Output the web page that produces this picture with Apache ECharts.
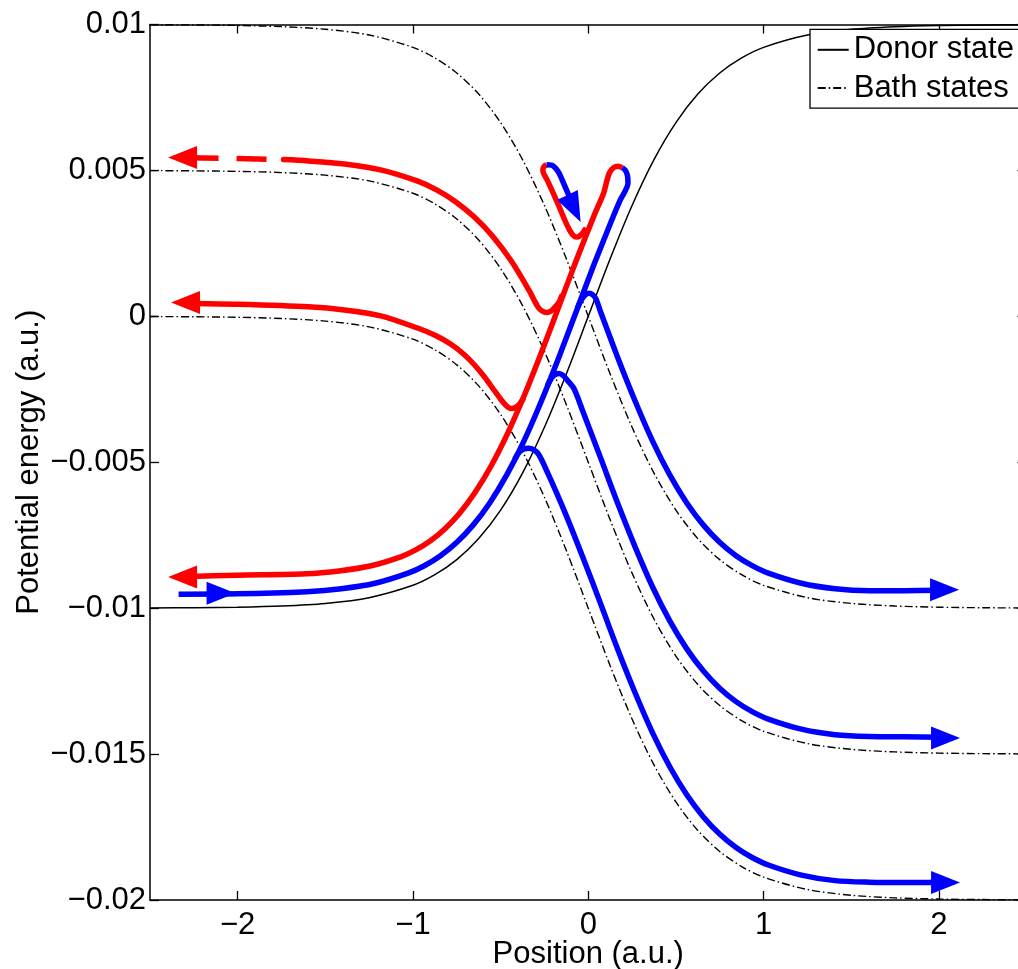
<!DOCTYPE html>
<html>
<head>
<meta charset="utf-8">
<script src="https://cdn.jsdelivr.net/npm/echarts@6/dist/echarts.min.js"></script>
<style>
html,body{margin:0;padding:0;background:#fff;}
#chart{width:1018px;height:969px;}
</style>
</head>
<body>
<div id="chart"></div>
<script>
// ---------- data ----------
const xTickValues = [-2, -1, 0, 1, 2];
const xTickLabels = ['\u22122', '\u22121', '0', '1', '2'];
const yTickValues = [-0.02, -0.015, -0.01, -0.005, 0, 0.005, 0.01];
const yTickLabels = ['\u22120.02', '\u22120.015', '\u22120.01', '\u22120.005', '0', '0.005', '0.01'];

const xGrid = [-2.5, -2.25, -2, -1.75, -1.5, -1.25, -1, -0.875, -0.75, -0.625, -0.5, -0.375, -0.25, -0.125, 0,
  0.125, 0.25, 0.375, 0.5, 0.625, 0.75, 0.875, 1, 1.25, 1.5, 1.75, 2, 2.25, 2.5];

const donorState = [-0.009993, -0.009985, -0.009967, -0.009926, -0.009837, -0.009640, -0.009217, -0.008854, -0.008337,
  -0.007616, -0.006640, -0.005371, -0.003800, -0.001974, 0, 0.001974, 0.003800, 0.005371, 0.006640, 0.007616, 0.008337,
  0.008854, 0.009217, 0.009640, 0.009837, 0.009926, 0.009967, 0.009985, 0.009993];

const bathTop = [0.009993, 0.009985, 0.009967, 0.009926, 0.009837, 0.009640, 0.009217, 0.008854, 0.008337, 0.007616,
  0.006640, 0.005371, 0.003800, 0.001974, 0, -0.001974, -0.003800, -0.005371, -0.006640, -0.007616, -0.008337,
  -0.008854, -0.009217, -0.009640, -0.009837, -0.009926, -0.009967, -0.009985, -0.009993];

const bathMid = [0.004993, 0.004985, 0.004967, 0.004926, 0.004837, 0.004640, 0.004217, 0.003854, 0.003337, 0.002616,
  0.001640, 0.000371, -0.001200, -0.003026, -0.005, -0.006974, -0.008800, -0.010371, -0.011640, -0.012616, -0.013337,
  -0.013854, -0.014217, -0.014640, -0.014837, -0.014926, -0.014967, -0.014985, -0.014993];

const bathLow = [-0.000007, -0.000015, -0.000033, -0.000074, -0.000163, -0.000360, -0.000783, -0.001146, -0.001663,
  -0.002384, -0.003360, -0.004629, -0.006200, -0.008026, -0.01, -0.011974, -0.013800, -0.015371, -0.016640, -0.017616,
  -0.018337, -0.018854, -0.019217, -0.019640, -0.019837, -0.019926, -0.019967, -0.019985, -0.019993];

// blue trajectory climbing the donor state (incoming from the left)
const blueClimb = [[-2.337, -0.009520], [-2.001, -0.009510], [-1.605, -0.009436], [-1.409, -0.009336], [-1.216, -0.009147],
  [-1.028, -0.008801], [-0.935, -0.008545], [-0.843, -0.008202], [-0.751, -0.007750], [-0.657, -0.007154],
  [-0.562, -0.006394], [-0.465, -0.005435], [-0.367, -0.004274], [-0.269, -0.002925], [-0.169, -0.001425],
  [-0.069, 0.000158], [0.031, 0.001747], [0.132, 0.003267], [0.182, 0.003979], [0.2265, 0.004565],
  [0.2242, 0.004805], [0.2128, 0.004993], [0.194, 0.005096]];

// red trajectory reflected back down the donor state
const redReturn = [[0.194, 0.005096], [0.170, 0.005147], [0.1443, 0.005096], [0.1215, 0.004925], [0.1072, 0.004668],
  [0.0881, 0.004226], [0.0367, 0.003503], [-0.065, 0.001969], [-0.1656, 0.000373], [-0.265, -0.001205],
  [-0.3633, -0.002688], [-0.460, -0.004010], [-0.555, -0.005137], [-0.647, -0.006048], [-0.735, -0.006757],
  [-0.820, -0.007298], [-0.902, -0.007699], [-0.984, -0.008003], [-1.066, -0.008231], [-1.238, -0.008545],
  [-1.421, -0.008723], [-1.611, -0.008822], [-2.003, -0.008870], [-2.314, -0.008920]];

// red trajectory leaving on the upper bath state (left, dashed end)
const redUpperDash = [[-2.280, 0.005437], [-2.0, 0.005411], [-1.738, 0.005370]];
const redUpper = [[-1.738, 0.005370], [-1.596, 0.005325], [-1.391, 0.005219], [-1.184, 0.005017], [-0.973, 0.004630],
  [-0.865, 0.004332], [-0.757, 0.003928], [-0.650, 0.003401], [-0.543, 0.002729], [-0.438, 0.001887],
  [-0.335, 0.000863], [-0.3092, 0.000558], [-0.2864, 0.000318], [-0.2635, 0.000182], [-0.2379, 0.000130],
  [-0.2122, 0.000182], [-0.1894, 0.000318], [-0.1666, 0.000490], [-0.1523, 0.000695]];

// red trajectory leaving on the middle bath state (left)
const redMiddle = [[-2.26, 0.000437], [-2.0, 0.000411], [-1.596, 0.000325], [-1.391, 0.000219], [-1.184, 0.000017],
  [-0.9738, -0.000401], [-0.8711, -0.000658], [-0.7855, -0.000949], [-0.7114, -0.001291], [-0.6486, -0.001668],
  [-0.5916, -0.002079], [-0.5402, -0.002507], [-0.5003, -0.002832], [-0.4689, -0.003055], [-0.4404, -0.003158],
  [-0.4147, -0.003123], [-0.3919, -0.003003], [-0.3719, -0.002832]];

// blue trajectories leaving on the bath states (right)
const blueUpper = [[-0.0582, 0.000336], [-0.0382, 0.000575], [-0.0183, 0.000729], [0.0034, 0.000788], [0.0245, 0.000747],
  [0.0445, 0.000592], [0.070, 0.000158], [0.169, -0.001425], [0.269, -0.002925], [0.367, -0.004274],
  [0.465, -0.005435], [0.562, -0.006394], [0.657, -0.007154], [0.751, -0.007750], [0.843, -0.008202],
  [0.935, -0.008545], [1.027, -0.008801], [1.216, -0.009147], [1.408, -0.009336], [1.605, -0.009400],
  [1.80, -0.009400], [2.03, -0.009380]];
const blueMiddle = [[-0.231, -0.002353], [-0.2094, -0.002113], [-0.1865, -0.001993], [-0.1666, -0.001959],
  [-0.1438, -0.002027], [-0.1181, -0.002199], [-0.081, -0.002479], [-0.031, -0.003253], [0.070, -0.004842],
  [0.169, -0.006425], [0.269, -0.007925], [0.367, -0.009274], [0.465, -0.010435], [0.562, -0.011394],
  [0.657, -0.012154], [0.751, -0.012750], [0.843, -0.013202], [0.935, -0.013545], [1.027, -0.013801],
  [1.216, -0.014147], [1.408, -0.014336], [1.605, -0.014400], [1.80, -0.014410], [2.03, -0.014420]];
const blueLower = [[-0.4159, -0.004853], [-0.3919, -0.004647], [-0.3662, -0.004545], [-0.3406, -0.004521],
  [-0.3149, -0.004562], [-0.2841, -0.004719], [-0.2327, -0.005349], [-0.132, -0.006733], [-0.031, -0.008253],
  [0.070, -0.009842], [0.169, -0.011425], [0.269, -0.012925], [0.367, -0.014274], [0.465, -0.015435],
  [0.562, -0.016394], [0.657, -0.017154], [0.751, -0.017750], [0.843, -0.018202], [0.935, -0.018545],
  [1.027, -0.018801], [1.216, -0.019147], [1.408, -0.019336], [1.605, -0.019390], [1.80, -0.019400], [2.03, -0.019400]];

// small loop on the top bath state
const loopRed = [[-0.2379, 0.005195], [-0.2516, 0.005134], [-0.259, 0.005027], [-0.255, 0.004904], [-0.2327, 0.004651],
  [-0.182, 0.003979], [-0.1318, 0.003267], [-0.1095, 0.002990], [-0.0896, 0.002801], [-0.0696, 0.002716],
  [-0.0496, 0.002750], [-0.0297, 0.002870], [-0.012, 0.003024]];
const loopBlue = [[-0.2379, 0.005195], [-0.2082, 0.005182], [-0.1865, 0.005082], [-0.1666, 0.004908],
  [-0.1483, 0.004668], [-0.1238, 0.004325], [-0.1067, 0.004086]];

// arrow heads
const redArrowsLeft = [[-2.3141, 0.005445], [-2.2972, 0.000473], [-2.3141, -0.008930]];
const blueArrowsRight = [[-2.0947, -0.009493], [2.0326, -0.009373], [2.0382, -0.014452], [2.0382, -0.019397]];
const blueArrowLoop = [[-0.081, 0.003695]];

// ---------- chart ----------
const FONT = '"Liberation Sans", Arial, Helvetica, sans-serif';
const RED = '#ff0000', BLUE = '#0000ff';
const pairs = (ys) => xGrid.map((x, i) => [x, ys[i]]);
const lab = (vals, labs) => (v) => {
  const i = vals.findIndex(t => Math.abs(t - v) < 1e-9);
  return i >= 0 ? labs[i] : '';
};

function thick(name, data, color, extra) {
  return Object.assign({
    name: name, type: 'line', data: data, symbol: 'none', smooth: 0.3, z: 3, silent: true,
    lineStyle: { color: color, width: 5.5, cap: 'round', join: 'round' }
  }, extra || {});
}
function pes(name, ys, dashed) {
  return {
    name: name, type: 'line', data: pairs(ys), symbol: 'none', smooth: 0.3, z: 2, silent: true,
    itemStyle: { color: '#000' },
    lineStyle: dashed ? { color: '#000', width: 1.4, type: [8, 3, 1.5, 3] } : { color: '#000', width: 1.5 }
  };
}
function arrows(data, color, rot, size) {
  return {
    type: 'scatter', data: data, symbol: 'triangle', symbolSize: size || [23, 29], symbolRotate: rot,
    itemStyle: { color: color, opacity: 1 }, z: 5, silent: true
  };
}

const axisCommon = {
  type: 'value', axisLine: { show: true, onZero: false, lineStyle: { color: '#000', width: 1.5 } },
  splitLine: { show: false }
};
const tickStyle = (vals) => ({ show: true, inside: true, length: 9, customValues: vals, lineStyle: { color: '#000', width: 1.3 } });

const chart = echarts.init(document.getElementById('chart'), null, { renderer: 'canvas' });
chart.setOption({
  animation: false,
  backgroundColor: '#fff',
  grid: { left: 150, top: 24.5, width: 876.5, height: 875.5, containLabel: false, outerBoundsMode: 'none' },
  legend: {
    data: ['Donor state', 'Bath states'], orient: 'vertical', left: 810, top: 29.3,
    padding: [5, 8, 4.5, 6.7], itemGap: 7.3, itemWidth: 31, itemHeight: 2,
    itemStyle: { opacity: 0 },
    backgroundColor: '#fff', borderColor: '#000', borderWidth: 1.3, borderRadius: 0,
    textStyle: { fontSize: 31, lineHeight: 31, color: '#000', fontFamily: FONT }, selectedMode: false
  },
  xAxis: [
    Object.assign({}, axisCommon, {
      position: 'bottom', min: -2.5, max: 2.5, interval: 0.5,
      name: 'Position (a.u.)', nameLocation: 'middle', nameGap: 39, nameMoveOverlap: false,
      nameTextStyle: { fontSize: 31, color: '#000', fontFamily: FONT },
      axisTick: tickStyle(xTickValues),
      axisLabel: { show: true, customValues: xTickValues, formatter: lab(xTickValues, xTickLabels), margin: 10,
        fontSize: 31, color: '#000', fontFamily: FONT }
    }),
    Object.assign({}, axisCommon, {
      position: 'top', min: -2.5, max: 2.5, interval: 0.5,
      axisTick: tickStyle(xTickValues),
      axisLabel: { show: false }
    })
  ],
  yAxis: [
    Object.assign({}, axisCommon, {
      position: 'left', min: -0.02, max: 0.01, interval: 0.005,
      name: 'Potential energy (a.u.)', nameLocation: 'middle', nameGap: 105, nameMoveOverlap: false,
      nameTextStyle: { fontSize: 31, color: '#000', fontFamily: FONT },
      axisTick: tickStyle(yTickValues),
      axisLabel: { show: true, customValues: yTickValues, formatter: lab(yTickValues, yTickLabels), margin: 4,
        fontSize: 31, color: '#000', fontFamily: FONT }
    }),
    Object.assign({}, axisCommon, {
      position: 'right', min: -0.02, max: 0.01, interval: 0.005,
      axisTick: tickStyle(yTickValues),
      axisLabel: { show: false }
    })
  ],
  series: [
    pes('Donor state', donorState, false),
    pes('Bath states', bathTop, true),
    pes('Bath states', bathMid, true),
    pes('Bath states', bathLow, true),
    thick('blueClimb', blueClimb, BLUE, { lineStyle: { color: BLUE, width: 5.5, cap: 'butt', join: 'round' } }),
    thick('redReturn', redReturn, RED, { lineStyle: { color: RED, width: 5.5, cap: 'butt', join: 'round' } }),
    thick('redUpperDash', redUpperDash, RED, { smooth: false, lineStyle: { color: RED, width: 5.5, cap: 'butt', type: [30, 18] } }),
    thick('redUpper', redUpper, RED),
    thick('redMiddle', redMiddle, RED),
    thick('blueUpper', blueUpper, BLUE),
    thick('blueMiddle', blueMiddle, BLUE),
    thick('blueLower', blueLower, BLUE),
    thick('loopRed', loopRed, RED, { lineStyle: { color: RED, width: 5.5, cap: 'butt', join: 'round' } }),
    thick('loopBlue', loopBlue, BLUE, { lineStyle: { color: BLUE, width: 5.5, cap: 'butt', join: 'round' } }),
    arrows(redArrowsLeft, RED, 90),
    arrows(blueArrowsRight, BLUE, -90),
    arrows(blueArrowLoop, BLUE, -154, [23, 30])
  ]
});
</script>
</body>
</html>
